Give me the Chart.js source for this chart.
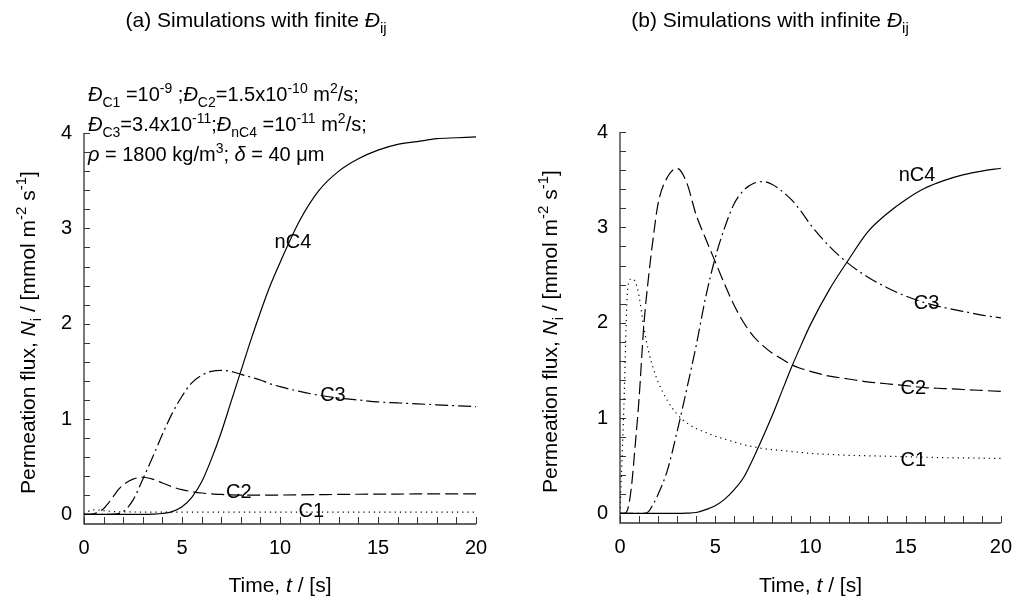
<!DOCTYPE html>
<html>
<head>
<meta charset="utf-8">
<script src="https://cdn.jsdelivr.net/npm/chart.js@4/dist/chart.umd.min.js"></script>
<style>
  html, body { margin: 0; padding: 0; background: #fff; }
  #wrap { position: relative; width: 1024px; height: 599px; }
  .panel { position: absolute; top: 0; width: 512px; height: 599px; }
</style>
</head>
<body>
<div id="wrap">
  <div class="panel" style="left:0"><canvas id="chartA"></canvas></div>
  <div class="panel" style="left:512px"><canvas id="chartB"></canvas></div>
</div>
<script>
// time samples (s), shared by all curves
const T = [0, 0.2, 0.4, 0.6, 0.8, 1, 1.25, 1.5, 1.75, 2, 2.5, 3, 3.5, 4, 4.5, 5, 5.5, 6, 6.5, 7,
  7.5, 8, 8.5, 9, 9.5, 10, 11, 12, 13, 14, 15, 16, 17, 18, 19, 20];

// (a) finite D_ij
const finiteC1 = [0, 0.03, 0.045, 0.05, 0.045, 0.04, 0.035, 0.03, 0.028, 0.027, 0.026, 0.025, 0.025, 0.025, 0.025, 0.025, 0.025, 0.025, 0.025, 0.025,
  0.025, 0.025, 0.025, 0.025, 0.025, 0.025, 0.025, 0.025, 0.025, 0.025, 0.025, 0.025, 0.025, 0.025, 0.025, 0.025];
const finiteC2 = [0, 0, 0.003, 0.015, 0.035, 0.06, 0.12, 0.19, 0.26, 0.31, 0.37, 0.39, 0.37, 0.33, 0.29, 0.26, 0.24, 0.225, 0.215, 0.21,
  0.205, 0.203, 0.202, 0.202, 0.203, 0.204, 0.206, 0.208, 0.21, 0.212, 0.213, 0.214, 0.215, 0.215, 0.216, 0.216];
const finiteC3 = [0, 0, 0, 0, 0, 0, 0, 0.003, 0.01, 0.03, 0.15, 0.37, 0.6, 0.84, 1.06, 1.24, 1.38, 1.46, 1.5, 1.51,
  1.5, 1.47, 1.44, 1.41, 1.37, 1.34, 1.29, 1.25, 1.22, 1.2, 1.18, 1.17, 1.16, 1.15, 1.14, 1.13];
const finiteNC4 = [0, 0, 0, 0, 0, 0, 0, 0, 0, 0, 0, 0, 0.003, 0.01, 0.03, 0.08, 0.18, 0.34, 0.58, 0.86,
  1.18, 1.5, 1.82, 2.12, 2.4, 2.64, 3.08, 3.4, 3.6, 3.73, 3.82, 3.88, 3.91, 3.94, 3.95, 3.96];

// (b) infinite D_ij
const infiniteC1 = [0, 1.1, 2.35, 2.46, 2.43, 2.28, 1.95, 1.7, 1.52, 1.38, 1.18, 1.04, 0.95, 0.89, 0.85, 0.81, 0.78, 0.75, 0.72, 0.7,
  0.68, 0.67, 0.66, 0.65, 0.64, 0.63, 0.62, 0.61, 0.605, 0.6, 0.595, 0.59, 0.585, 0.583, 0.58, 0.578];
const infiniteC2 = [0, 0, 0.04, 0.28, 0.72, 1.2, 1.97, 2.48, 2.9, 3.25, 3.53, 3.62, 3.47, 3.13, 2.88, 2.64, 2.4, 2.18, 2.0, 1.86,
  1.76, 1.68, 1.62, 1.56, 1.52, 1.49, 1.44, 1.41, 1.38, 1.36, 1.34, 1.32, 1.31, 1.3, 1.29, 1.28];
const infiniteC3 = [0, 0, 0, 0, 0, 0, 0, 0.02, 0.1, 0.2, 0.46, 0.86, 1.3, 1.76, 2.27, 2.68, 3.0, 3.25, 3.39, 3.46,
  3.48, 3.45, 3.38, 3.29, 3.17, 3.03, 2.8, 2.62, 2.48, 2.37, 2.28, 2.21, 2.16, 2.12, 2.08, 2.05];
const infiniteNC4 = [0, 0, 0, 0, 0, 0, 0, 0, 0, 0, 0, 0, 0.003, 0.01, 0.04, 0.08, 0.15, 0.25, 0.38, 0.58,
  0.8, 1.03, 1.28, 1.53, 1.76, 1.98, 2.35, 2.66, 2.95, 3.14, 3.29, 3.41, 3.49, 3.55, 3.59, 3.62];

const seriesNames = ['C1', 'C2', 'C3', 'nC4'];
const xTicks = [0, 5, 10, 15, 20];
const yTicks = [0, 1, 2, 3, 4];
const xMinorStep = 1;
const yMinorStep = 0.2;

// where the curve names sit, in data units [t, N]
const finiteLabelPos = [[11.6, 0.03], [7.9, 0.23], [12.7, 1.25], [10.66, 2.85]];
const infiniteLabelPos = [[15.4, 0.56], [15.4, 1.31], [16.1, 2.2], [15.6, 3.54]];

const FONT = '"Liberation Sans", Arial, Helvetica, sans-serif';
const dashes = [[1.2, 4], [13, 5], [13, 4, 2, 4], []];

function partFont(p, size) {
  const small = p[0] === 'sub' || p[0] === 'sup';
  const it = p[0] === 'i';
  return (it ? 'italic ' : '') + (small ? Math.round(size * 0.7) : size) + 'px ' + FONT;
}

function drawRich(ctx, parts, x, y, size, align) {
  let w = 0;
  parts.forEach(p => { ctx.font = partFont(p, size); w += ctx.measureText(p[1]).width; });
  let cx = align === 'center' ? x - w / 2 : x;
  ctx.textAlign = 'left';
  ctx.textBaseline = 'alphabetic';
  parts.forEach(p => {
    ctx.font = partFont(p, size);
    const dy = p[0] === 'sub' ? size * 0.28 : p[0] === 'sup' ? -size * 0.42 : 0;
    ctx.fillText(p[1], cx, y + dy);
    cx += ctx.measureText(p[1]).width;
  });
}

const yTitle = [['n', 'Permeation flux, '], ['i', 'N'], ['sub', 'i'], ['n', ' / [mmol m'], ['sup', '-2'], ['n', ' s'], ['sup', '-1'], ['n', ']']];
const xTitle = [['n', 'Time, '], ['i', 't'], ['n', ' / [s]']];
const noteLines = [
  [['i', 'Đ'], ['sub', 'C1'], ['n', ' =10'], ['sup', '-9'], ['n', ' ;'], ['i', 'Đ'], ['sub', 'C2'], ['n', '=1.5x10'], ['sup', '-10'], ['n', ' m'], ['sup', '2'], ['n', '/s;']],
  [['i', 'Đ'], ['sub', 'C3'], ['n', '=3.4x10'], ['sup', '-11'], ['n', ';'], ['i', 'Đ'], ['sub', 'nC4'], ['n', ' =10'], ['sup', '-11'], ['n', ' m'], ['sup', '2'], ['n', '/s;']],
  [['i', 'ρ'], ['n', ' = 1800 kg/m'], ['sup', '3'], ['n', '; '], ['i', 'δ'], ['n', ' = 40 μm']]
];

const decorPlugin = {
  id: 'decor',
  beforeDatasetsDraw(chart) {
    const { ctx, chartArea: a, scales: { x, y } } = chart;
    ctx.save();
    ctx.strokeStyle = '#333';
    ctx.lineWidth = 1.3;
    ctx.beginPath();
    ctx.moveTo(a.left, a.top);
    ctx.lineTo(a.left, a.bottom);
    ctx.lineTo(x.getPixelForValue(x.max), a.bottom);
    ctx.stroke();
    ctx.lineWidth = 1;
    ctx.beginPath();
    for (let t = x.min; t <= x.max + 1e-9; t += xMinorStep) {
      const px = Math.round(x.getPixelForValue(t)) + 0.5;
      ctx.moveTo(px, a.bottom);
      ctx.lineTo(px, a.bottom - 7);
    }
    for (let v = 0; v <= 4 + 1e-9; v += yMinorStep) {
      const py = Math.round(y.getPixelForValue(v)) + 0.5;
      ctx.moveTo(a.left, py);
      ctx.lineTo(a.left + 6, py);
    }
    ctx.stroke();
    ctx.restore();
  },
  afterDatasetsDraw(chart, args, opts) {
    const { ctx, chartArea: a, scales: { x, y } } = chart;
    ctx.save();
    ctx.fillStyle = '#000';
    // curve names
    ctx.font = '20px ' + FONT;
    ctx.textAlign = 'center';
    ctx.textBaseline = 'middle';
    opts.labelPos.forEach((p, i) => {
      ctx.fillText(seriesNames[i], x.getPixelForValue(p[0]), y.getPixelForValue(p[1]));
    });
    // titles
    drawRich(ctx, opts.title, opts.titleX, 27, 21, 'center');
    drawRich(ctx, xTitle, (a.left + a.right) / 2, 592, 21, 'center');
    ctx.save();
    ctx.translate(opts.yTitleX, (a.top + a.bottom) / 2 + 4);
    ctx.rotate(-Math.PI / 2);
    drawRich(ctx, yTitle, 0, 7, 21, 'center');
    ctx.restore();
    if (opts.notes) {
      opts.notes.forEach((line, i) => drawRich(ctx, line, a.left + 4, 101 + i * 30, 20, 'left'));
    }
    ctx.restore();
  }
};

function makeChart(id, values, cfg) {
  const datasets = values.map((vals, i) => ({
    label: seriesNames[i],
    data: T.map((t, k) => ({ x: t, y: vals[k] })),
    borderColor: '#000',
    borderWidth: 1.2,
    borderDash: dashes[i],
    pointRadius: 0,
    cubicInterpolationMode: 'monotone',
    fill: false
  }));
  return new Chart(document.getElementById(id), {
    type: 'line',
    data: { datasets },
    plugins: [decorPlugin],
    options: {
      responsive: true,
      maintainAspectRatio: false,
      animation: false,
      devicePixelRatio: 1,
      layout: { padding: cfg.padding },
      plugins: {
        legend: { display: false },
        tooltip: { enabled: false },
        decor: { title: cfg.title, titleX: cfg.titleX, yTitleX: cfg.yTitleX, labelPos: cfg.labelPos, notes: cfg.notes }
      },
      scales: {
        x: {
          type: 'linear', min: 0, max: 20,
          grid: { display: false, drawTicks: false },
          border: { display: false },
          afterBuildTicks: s => { s.ticks = xTicks.map(v => ({ value: v })); },
          afterFit: s => { s.height = 40; },
          ticks: { color: '#000', font: { family: FONT, size: 20 }, padding: 12, maxRotation: 0 }
        },
        y: {
          type: 'linear', min: -0.1, max: 4,
          grid: { display: false, drawTicks: false },
          border: { display: false },
          afterBuildTicks: s => { s.ticks = yTicks.map(v => ({ value: v })); },
          afterFit: s => { s.width = 40; },
          ticks: { color: '#000', font: { family: FONT, size: 20 }, padding: 12 }
        }
      }
    }
  });
}

makeChart('chartA', [finiteC1, finiteC2, finiteC3, finiteNC4], {
  padding: { left: 44, right: 36, top: 133, bottom: 35 },
  title: [['n', '(a) Simulations with finite '], ['i', 'Đ'], ['sub', 'ij']],
  titleX: 256,
  yTitleX: 28,
  labelPos: finiteLabelPos,
  notes: noteLines
});

makeChart('chartB', [infiniteC1, infiniteC2, infiniteC3, infiniteNC4], {
  padding: { left: 68, right: 14, top: 132, bottom: 36 },
  title: [['n', '(b) Simulations with infinite '], ['i', 'Đ'], ['sub', 'ij']],
  titleX: 258,
  yTitleX: 38,
  labelPos: infiniteLabelPos,
  notes: null
});
</script>
</body>
</html>
